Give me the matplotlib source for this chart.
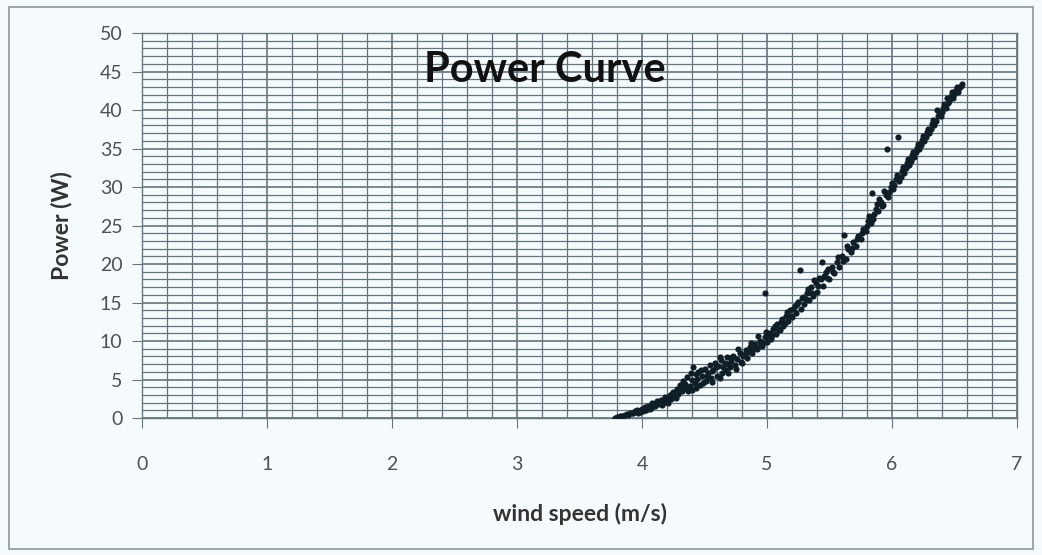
import matplotlib
matplotlib.use("Agg")
import matplotlib.pyplot as plt
from matplotlib.patches import Rectangle
from matplotlib.ticker import MultipleLocator

# wind speed (m/s) readings, low to high
wind_speed = [
    3.78, 3.80, 3.82, 3.84, 3.86, 3.88, 3.90, 3.92, 3.94, 3.96, 3.98, 4.00,
    4.02, 4.03, 4.05, 4.07, 4.08, 4.10, 4.12, 4.13, 4.15, 4.17, 4.18, 4.20,
    4.22, 4.23, 4.25, 4.26, 4.28, 4.29, 4.30, 4.32, 4.33, 4.35, 4.36, 4.38,
    4.39, 4.40, 4.41, 4.42, 4.44, 4.45, 4.46, 4.48, 4.50, 4.51, 4.53, 4.54,
    4.55, 4.57, 4.58, 4.60, 4.61, 4.63, 4.64, 4.66, 4.67, 4.68, 4.70, 4.71,
    4.73, 4.74, 4.76, 4.78, 4.79, 4.81, 4.83, 4.84, 4.86, 4.88, 4.90, 4.92,
    4.94, 4.96, 4.98, 4.98,
    5.00, 5.02, 5.03, 5.05, 5.07, 5.08, 5.10, 5.12, 5.13, 5.15, 5.17, 5.18,
    5.20, 5.22, 5.23, 5.25, 5.26, 5.27, 5.29, 5.30, 5.32, 5.34, 5.35, 5.37,
    5.39, 5.40, 5.42, 5.44, 5.45, 5.47,
    5.50, 5.52, 5.54, 5.56, 5.58, 5.60, 5.62, 5.63, 5.65, 5.67, 5.69, 5.71,
    5.73, 5.75, 5.77, 5.79, 5.81, 5.83, 5.84, 5.86, 5.88, 5.89, 5.91, 5.93,
    5.95, 5.96, 5.97, 5.99,
    6.01, 6.03, 6.05, 6.06, 6.08, 6.10, 6.12, 6.14, 6.16, 6.18, 6.20, 6.22,
    6.24, 6.26, 6.28, 6.30, 6.32, 6.34, 6.36, 6.37, 6.39, 6.41, 6.43, 6.44,
    6.46, 6.48, 6.49, 6.51, 6.53, 6.55, 6.56,
]

# measured power (W) for each reading above
power = [
    0.0, 0.1, 0.2, 0.3, 0.4, 0.5, 0.6, 0.7, 0.9, 1.0, 0.8, 1.2,
    1.4, 1.0, 1.6, 1.3, 1.9, 1.6, 2.2, 1.8, 2.4, 2.0, 2.7, 2.3,
    3.0, 2.5, 3.4, 2.8, 3.8, 3.1, 4.3, 3.5, 4.8, 3.9, 5.3, 4.2,
    5.8, 3.6, 6.6, 4.6, 5.1, 6.0, 4.3, 5.5, 6.4, 4.8, 5.9, 6.9,
    5.2, 6.3, 7.2, 5.5, 6.8, 7.5, 5.9, 7.1, 6.2, 7.9, 6.6, 7.4,
    8.1, 6.9, 7.7, 8.5, 7.3, 8.0, 8.8, 7.8, 9.2, 8.4, 9.6, 8.9,
    10.0, 9.3, 10.5, 16.2,
    9.9, 11.0, 10.3, 11.6, 10.9, 12.2, 11.4, 12.8, 12.0, 13.3, 12.6, 14.0,
    13.1, 14.5, 13.6, 15.1, 19.2, 14.2, 15.7, 14.8, 16.3, 15.3, 17.0, 15.9,
    17.6, 16.4, 18.2, 20.3, 17.2, 18.9,
    18.0, 19.6, 18.8, 20.3, 19.6, 21.1, 23.8, 20.6, 22.0, 21.5, 22.8, 22.4,
    23.7, 23.3, 24.6, 24.3, 25.6, 25.3, 29.2, 26.5, 27.8, 26.9, 28.0, 27.7,
    29.0, 35.0, 28.7, 30.0,
    29.7, 31.0, 36.5, 30.8, 32.1, 31.8, 33.1, 32.9, 34.1, 33.9, 35.1, 34.9,
    36.1, 36.0, 37.1, 37.0, 38.2, 38.1, 40.0, 39.2, 39.2, 40.3, 40.2, 41.5,
    41.2, 42.4, 41.6, 42.6, 42.3, 43.1, 43.4,
]

# second batch of readings (same logger, later session)
wind_speed_2 = [
    3.81, 3.85, 3.89, 3.93, 3.97, 3.99, 4.01, 4.04, 4.06, 4.09, 4.11, 4.14,
    4.16, 4.19,
    4.21, 4.24, 4.27, 4.31, 4.34, 4.37, 4.40, 4.43, 4.43, 4.47, 4.49, 4.52,
    4.56, 4.56, 4.59, 4.62, 4.62, 4.65, 4.69, 4.69, 4.72, 4.75, 4.77, 4.80,
    4.82, 4.85, 4.87, 4.89, 4.91, 4.93, 4.95, 4.97, 4.99,
    5.01, 5.04, 5.06, 5.09, 5.11, 5.14, 5.16, 5.19, 5.21, 5.24, 5.28, 5.31,
    5.33, 5.36, 5.38, 5.41, 5.43, 5.46, 5.48, 5.49,
    5.53, 5.57, 5.61, 5.64, 5.68, 5.72, 5.76, 5.80, 5.82, 5.85, 5.87, 5.90,
    5.92, 5.94, 5.98, 6.00, 6.02, 6.04, 6.07, 6.09, 6.11, 6.13, 6.15, 6.17,
    6.19, 6.21, 6.23, 6.25, 6.27, 6.29, 6.31, 6.33, 6.35, 6.38, 6.40, 6.42,
    6.45, 6.47, 6.50, 6.52, 6.54,
]

power_2 = [
    0.0, 0.2, 0.4, 0.6, 0.7, 1.1, 0.9, 1.3, 1.2, 1.5, 1.9, 2.1,
    1.7, 2.5,
    2.0, 3.1, 2.6, 3.9, 4.4, 3.5, 5.0, 5.7, 3.9, 6.3, 4.6, 5.4,
    6.1, 4.7, 6.6, 5.2, 7.9, 6.6, 7.0, 5.8, 7.9, 6.4, 8.9, 7.2,
    8.3, 8.6, 9.8, 8.9, 9.2, 10.6, 9.6, 9.8, 11.2,
    10.6, 10.8, 11.9, 11.6, 12.5, 12.4, 13.8, 13.3, 14.1, 14.8, 15.6, 15.4,
    16.8, 16.3, 17.9, 17.2, 18.0, 18.5, 18.2, 19.4,
    19.0, 20.9, 20.4, 22.4, 22.1, 23.2, 24.0, 25.0, 26.2, 25.9, 27.2, 28.4,
    27.5, 29.5, 29.3, 30.5, 30.3, 31.5, 31.3, 32.6, 32.5, 33.6, 33.4, 34.6,
    34.5, 35.6, 35.5, 36.6, 36.5, 37.6, 37.5, 38.7, 38.6, 39.8, 39.7, 40.8,
    40.9, 41.8, 42.1, 43.0, 42.8,
]

x_ticks = [0, 1, 2, 3, 4, 5, 6, 7]
y_ticks = [0, 5, 10, 15, 20, 25, 30, 35, 40, 45, 50]

BG = "#f5fbfd"
GRID = "#66747d"
LABEL = "#333333"
DOT = "#101f27"

plt.rcParams["font.family"] = ["Lato", "DejaVu Sans"]

fig = plt.figure(figsize=(10.42, 5.55), dpi=100, facecolor=BG)
# outer chart frame
fig.add_artist(Rectangle((0.009, 0.01), 0.982, 0.978, transform=fig.transFigure,
                         fill=False, edgecolor="#9aa4aa", linewidth=1.4))

ax = fig.add_axes([0.1363, 0.2468, 0.8397, 0.6937], facecolor=BG)
ax.scatter(wind_speed, power, s=20, color=DOT, linewidths=0, zorder=3)
ax.scatter(wind_speed_2, power_2, s=20, color=DOT, linewidths=0, zorder=3)

ax.set_xlim(0, 7)
ax.set_ylim(0, 50)
ax.xaxis.set_minor_locator(MultipleLocator(0.2))
ax.yaxis.set_minor_locator(MultipleLocator(1))
ax.set_xticks(x_ticks)
ax.set_yticks(y_ticks)

ax.grid(which="major", color=GRID, linewidth=1.2)
ax.grid(which="minor", color=GRID, linewidth=0.9)
ax.set_axisbelow(True)

for s in ax.spines.values():
    s.set_color(GRID)
    s.set_linewidth(1.0)

ax.tick_params(axis="x", which="major", length=7, color=GRID, pad=20,
               labelsize=14, labelcolor="#505050")
ax.tick_params(axis="y", which="major", length=7, color=GRID, pad=7,
               labelsize=14, labelcolor="#505050")
ax.tick_params(which="minor", length=0)

ax.set_xlabel("wind speed (m/s)", fontsize=16.5, fontweight="bold",
              color=LABEL, labelpad=22)
ax.set_ylabel("Power (W)", fontsize=16.5, fontweight="bold",
              color=LABEL, labelpad=20)

ax.text(0.46, 0.905, "Power Curve", transform=ax.transAxes, ha="center",
        va="center", fontsize=30, fontweight="bold", color="#111111", zorder=4)

fig.savefig("out.png", dpi=100, facecolor=BG)
